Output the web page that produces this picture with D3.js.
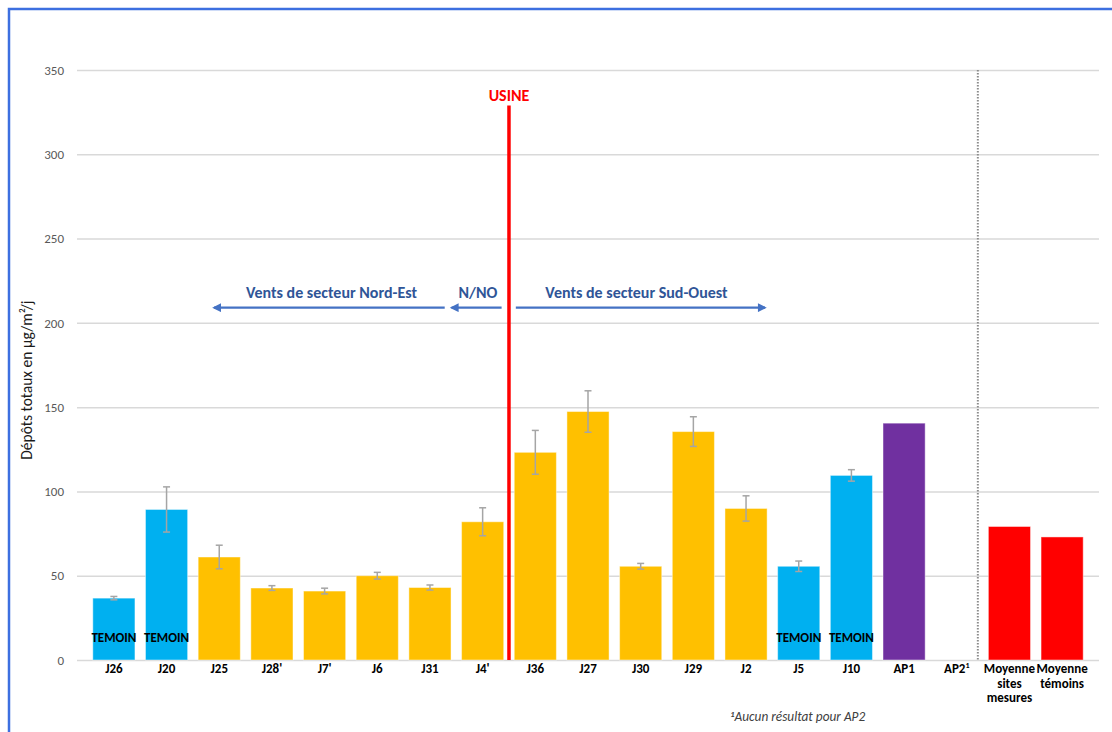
<!DOCTYPE html>
<html>
<head>
<meta charset="utf-8">
<script src="https://cdn.jsdelivr.net/npm/d3@7"></script>
<style>
  body { margin: 0; background: #fff; }
  text { font-family: Carlito, Calibri, Lato, sans-serif; }
</style>
</head>
<body>
<div id="chart"></div>
<script>
// Sites (x categories), label lines under each bar
var sites = ["J26", "J20", "J25", "J28'", "J7'", "J6", "J31", "J4'", "J36", "J27", "J30",
  "J29", "J2", "J5", "J10", "AP1", "AP2", "Moyenne sites mesures", "Moyenne témoins"];
var siteLabels = [["J26"], ["J20"], ["J25"], ["J28'"], ["J7'"], ["J6"], ["J31"], ["J4'"], ["J36"],
  ["J27"], ["J30"], ["J29"], ["J2"], ["J5"], ["J10"], ["AP1"], ["AP2"],
  ["Moyenne", "sites", "mesures"], ["Moyenne", "témoins"]];

// Total deposits (µg/m²/j) and error bar half-widths
var depots = [36.7, 89.3, 61.1, 42.7, 40.9, 50, 43, 82, 123.2, 147.4, 55.6, 135.5, 89.9,
  55.6, 109.5, 140.5, null, 79.2, 73];
var erreurs = [1, 13.4, 7, 1.4, 1.7, 2, 1.5, 8.3, 13, 12.3, 1.7, 8.8, 7.5, 3.1, 3.4,
  null, null, null, null];

// site type decides the colour
var types = ["temoin", "temoin", "site", "site", "site", "site", "site", "site", "site", "site",
  "site", "site", "site", "temoin", "temoin", "ap", "ap", "moyenne", "moyenne"];
var temoinSites = ["J26", "J20", "J5", "J10"];

var yTicks = [0, 50, 100, 150, 200, 250, 300, 350];

var colors = {temoin: "#00B0F0", site: "#FFC000", ap: "#7030A0", moyenne: "#FF0000"};

var svgWidth = 1112, svgHeight = 732;
var margin = {top: 70, right: 13, bottom: 72, left: 77};
var width = svgWidth - margin.left - margin.right;
var height = svgHeight - margin.top - margin.bottom;

var svg = d3.select("#chart").append("svg")
  .attr("width", svgWidth)
  .attr("height", svgHeight);

// blue frame round the chart
svg.append("rect")
  .attr("x", 9).attr("y", 9)
  .attr("width", 1300).attr("height", 900)
  .attr("fill", "none")
  .attr("stroke", "#3D6FE0")
  .attr("stroke-width", 2.5);

var chartGroup = svg.append("g")
  .attr("transform", `translate(${margin.left}, ${margin.top})`);

var data = sites.map((s, i) => ({site: s, label: siteLabels[i], value: depots[i], err: erreurs[i], type: types[i]}));

var x = d3.scaleBand()
  .domain(sites)
  .range([0, width])
  .paddingInner(0.2)
  .paddingOuter(0.3);

var y = d3.scaleLinear()
  .domain([0, 350])
  .range([height, 0]);

// x position at a fractional site index (for annotations)
function xi(i) {
  return x(sites[0]) + x.bandwidth() / 2 + i * x.step();
}

// gridlines + y labels
var yAxis = d3.axisLeft(y).tickValues(yTicks).tickSize(-width).tickPadding(13);
var yg = chartGroup.append("g").call(yAxis);
yg.select(".domain").remove();
yg.selectAll(".tick line").attr("stroke", "#D9D9D9").attr("stroke-width", 1.5);
yg.selectAll(".tick text")
  .attr("fill", "#595959")
  .style("font-size", "13px");

// y axis name
chartGroup.append("text")
  .attr("transform", "rotate(-90)")
  .attr("x", -y(166))
  .attr("y", -45)
  .attr("text-anchor", "middle")
  .attr("fill", "#1a1a1a")
  .style("font-size", "15.5px")
  .text("Dépôts totaux en µg/m²/j");

// bars
chartGroup.selectAll("rect.bar")
  .data(data.filter(d => d.value != null))
  .enter()
  .append("rect")
  .attr("class", "bar")
  .attr("x", d => x(d.site))
  .attr("y", d => y(d.value))
  .attr("width", x.bandwidth())
  .attr("height", d => y(0) - y(d.value))
  .attr("fill", d => colors[d.type])
  .attr("stroke", "#fff")
  .attr("stroke-opacity", 0.45)
  .attr("stroke-width", 1);

// error bars
var errData = data.filter(d => d.err != null);
var eg = chartGroup.append("g")
  .attr("stroke", "#A5A5A5")
  .attr("stroke-width", 1.5);
eg.selectAll("line.v").data(errData).enter().append("line")
  .attr("x1", d => x(d.site) + x.bandwidth() / 2)
  .attr("x2", d => x(d.site) + x.bandwidth() / 2)
  .attr("y1", d => y(d.value + d.err))
  .attr("y2", d => y(d.value - d.err));
[1, -1].forEach(function(sign) {
  eg.selectAll("line.c" + sign).data(errData).enter().append("line")
    .attr("x1", d => x(d.site) + x.bandwidth() / 2 - 3.5)
    .attr("x2", d => x(d.site) + x.bandwidth() / 2 + 3.5)
    .attr("y1", d => y(d.value + sign * d.err))
    .attr("y2", d => y(d.value + sign * d.err));
});

// TEMOIN labels
chartGroup.selectAll("text.temoin")
  .data(temoinSites)
  .enter()
  .append("text")
  .attr("class", "temoin")
  .attr("x", d => x(d) + x.bandwidth() / 2)
  .attr("y", y(10.7))
  .attr("text-anchor", "middle")
  .attr("font-weight", "bold")
  .attr("fill", "#000")
  .style("font-size", "13px")
  .text("TEMOIN");

// x labels
var xl = chartGroup.selectAll("text.xlab")
  .data(data)
  .enter()
  .append("text")
  .attr("class", "xlab")
  .attr("x", d => x(d.site) + x.bandwidth() / 2)
  .attr("y", height + 13)
  .attr("text-anchor", "middle")
  .attr("font-weight", "bold")
  .attr("fill", "#000")
  .style("font-size", "13px");
xl.each(function(d) {
  var t = d3.select(this);
  d.label.forEach(function(line, k) {
    t.append("tspan")
      .attr("x", x(d.site) + x.bandwidth() / 2)
      .attr("dy", k === 0 ? 0 : 14.5)
      .text(line);
  });
  if (d.site === "AP2") {
    t.append("tspan").attr("dy", -5).style("font-size", "8px").text("1");
  }
});

// dotted separator before the averages
var sepX = x("AP2") + x.bandwidth();
chartGroup.append("line")
  .attr("x1", sepX).attr("x2", sepX)
  .attr("y1", y(350)).attr("y2", y(0))
  .attr("stroke", "#8C8C8C")
  .attr("stroke-width", 2)
  .attr("stroke-dasharray", "1.6,1.4");

// factory line
chartGroup.append("line")
  .attr("x1", xi(7.5)).attr("x2", xi(7.5))
  .attr("y1", y(329)).attr("y2", y(0))
  .attr("stroke", "#FF0000")
  .attr("stroke-width", 3.5);
chartGroup.append("text")
  .attr("x", xi(7.5))
  .attr("y", y(331.8))
  .attr("text-anchor", "middle")
  .attr("font-weight", "bold")
  .attr("fill", "#FF0000")
  .style("font-size", "16px")
  .text("USINE");

// wind arrows
svg.append("defs").append("marker")
  .attr("id", "arrow")
  .attr("viewBox", "0 0 10 10")
  .attr("refX", 8).attr("refY", 5)
  .attr("markerWidth", 4.5).attr("markerHeight", 4)
  .attr("markerUnits", "strokeWidth")
  .attr("orient", "auto")
  .append("path")
  .attr("d", "M0,0 L10,5 L0,10 Z")
  .attr("fill", "#4472C4");

var arrows = [[6.28, 1.9], [7.36, 6.41], [7.63, 12.36]];
var arrowLabels = ["Vents de secteur Nord-Est", "N/NO", "Vents de secteur Sud-Ouest"];
var arrowLabelPos = [4.13, 6.91, 9.92];

chartGroup.selectAll("line.wind")
  .data(arrows)
  .enter()
  .append("line")
  .attr("class", "wind")
  .attr("x1", d => xi(d[0]))
  .attr("x2", d => xi(d[1]))
  .attr("y1", y(209)).attr("y2", y(209))
  .attr("stroke", "#4472C4")
  .attr("stroke-width", 2.2)
  .attr("marker-end", "url(#arrow)");

chartGroup.selectAll("text.wind")
  .data(arrowLabels)
  .enter()
  .append("text")
  .attr("class", "wind")
  .attr("x", (d, i) => xi(arrowLabelPos[i]))
  .attr("y", y(214.5))
  .attr("text-anchor", "middle")
  .attr("font-weight", "bold")
  .attr("fill", "#2F5597")
  .style("font-size", "16px")
  .text(d => d);

// footnote
var fn = chartGroup.append("text")
  .attr("x", xi(11.7))
  .attr("y", height + 61)
  .attr("fill", "#404040")
  .attr("font-style", "italic")
  .style("font-size", "13.3px");
fn.append("tspan").attr("dy", -4).attr("font-weight", "bold").style("font-size", "8.5px").text("1");
fn.append("tspan").attr("dy", 4).text("Aucun résultat pour AP2");
</script>
</body>
</html>
